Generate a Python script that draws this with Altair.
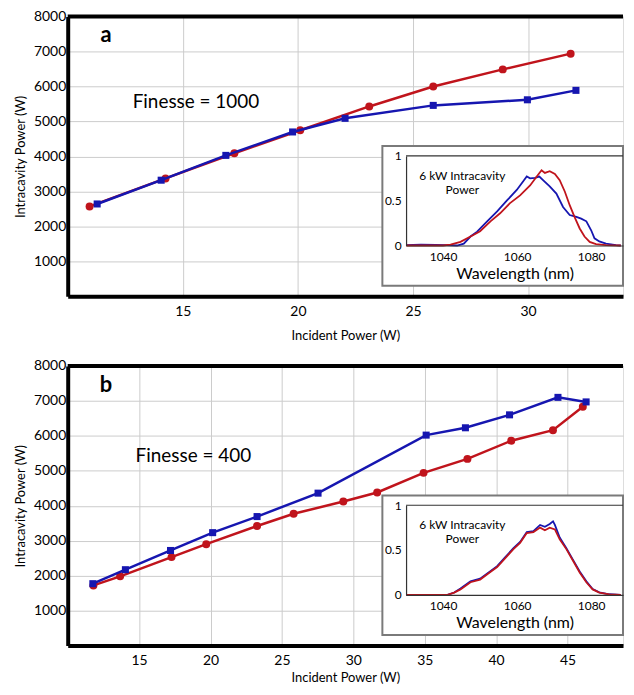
import altair as alt
import pandas as pd

# ---------------- data: panel a (Finesse = 1000) ----------------
a_red_x = [10.95, 14.25, 17.24, 20.1, 23.1, 25.88, 28.9, 31.85]
a_red_y = [2570, 3370, 4090, 4750, 5430, 6000, 6490, 6940]
a_blue_x = [11.28, 14.06, 16.87, 19.77, 22.05, 25.88, 29.97, 32.08]
a_blue_y = [2640, 3320, 4030, 4700, 5090, 5460, 5620, 5890]

# inset spectra, panel a (visible range ends near 1088 nm)
a_red_wl = [1030, 1040, 1042, 1044.7, 1048.3, 1050, 1052.8, 1055.4, 1058, 1060.8, 1063.5, 1065.3,
            1066.6, 1067.5, 1068.8, 1070.2, 1071.5, 1072.9, 1074.2, 1075.5, 1076.9, 1078.2, 1079.6,
            1081.3, 1084, 1088]
a_red_iv = [0.0, 0.0, 0.01, 0.04, 0.12, 0.16, 0.27, 0.36, 0.47, 0.56, 0.67, 0.77,
            0.84, 0.81, 0.83, 0.80, 0.73, 0.60, 0.45, 0.32, 0.19, 0.10, 0.04,
            0.015, 0.005, 0.0]
a_blue_wl = [1030, 1034, 1038, 1041, 1043.8, 1045.6, 1047.4, 1049.2, 1051.9, 1054.6, 1057.2, 1059.9,
             1061.7, 1062.6, 1063.5, 1064.8, 1066, 1067, 1068.8, 1070.6, 1072.4, 1074.2, 1076,
             1077.3, 1078.7, 1080, 1080.9, 1082.2, 1084, 1086.7, 1088]
a_blue_iv = [0.005, 0.01, 0.008, 0.005, 0.0, 0.02, 0.10, 0.155, 0.27, 0.38, 0.50, 0.62,
             0.72, 0.77, 0.75, 0.755, 0.77, 0.73, 0.66, 0.58, 0.43, 0.34, 0.32,
             0.30, 0.27, 0.17, 0.08, 0.045, 0.02, 0.005, 0.0]

# ---------------- data: panel b (Finesse = 400) ----------------
b_red_x = [11.8, 13.67, 17.27, 19.7, 23.26, 25.82, 29.3, 31.67, 34.92, 37.99, 41.06, 43.98, 46.07]
b_red_y = [1720, 1980, 2530, 2900, 3420, 3770, 4120, 4380, 4940, 5340, 5860, 6160, 6830]
b_blue_x = [11.76, 14.04, 17.2, 20.15, 23.26, 27.53, 35.1, 37.85, 40.94, 44.33, 46.3]
b_blue_y = [1770, 2170, 2720, 3230, 3690, 4360, 6020, 6230, 6600, 7100, 6970]

b_red_wl = [1030, 1041.2, 1043, 1044.7, 1047.4, 1050, 1052.3, 1054.6, 1056.8, 1059, 1060.8, 1062.6,
            1064.4, 1066.2, 1067.5, 1068.8, 1070.2, 1071.5, 1073.3, 1075.1, 1076.9, 1078.7, 1080.4,
            1082.2, 1084.9, 1088]
b_red_iv = [0.0, 0.0, 0.025, 0.06, 0.14, 0.17, 0.24, 0.31, 0.41, 0.51, 0.58, 0.69,
            0.70, 0.75, 0.72, 0.75, 0.73, 0.62, 0.51, 0.38, 0.25, 0.14, 0.06,
            0.025, 0.005, 0.0]
b_blue_wl = [1030, 1041.2, 1043, 1044.7, 1047.4, 1050, 1052.3, 1054.6, 1056.8, 1059, 1060.8, 1062.6,
             1064.4, 1066.2, 1067.5, 1068.8, 1069.7, 1070.2, 1071.5, 1073.3, 1075.1, 1076.9, 1078.7,
             1080.4, 1082.2, 1084.9, 1088]
b_blue_iv = [0.0, 0.0, 0.025, 0.07, 0.15, 0.18, 0.25, 0.32, 0.42, 0.52, 0.59, 0.70,
             0.71, 0.78, 0.76, 0.79, 0.82, 0.78, 0.64, 0.52, 0.39, 0.26, 0.15,
             0.065, 0.028, 0.006, 0.0]

y_ticks = [1000, 2000, 3000, 4000, 5000, 6000, 7000, 8000]
a_x_ticks = [15, 20, 25, 30]
b_x_ticks = [15, 20, 25, 30, 35, 40, 45]
inset_x_ticks = [1040, 1060, 1080]
inset_y_ticks = [0, 0.5, 1]
inset_label = ["6 kW Intracavity", "Power"]

FONT = "Lato"
RED = "#c0141c"
BLUE = "#1616b0"
W, H = 558, 281
GRID = "#cccccc"
IY0, IY1 = 230, 140  # pixel rows of inset y = 0 and y = 1 inside a panel
IX0 = 340            # pixel column of inset x = 1030 inside a panel
IXMAX = 1030 + (W - IX0) / 3.72


def panel(rx, ry, bx, by, xmax, xticks, letter, letter_x, finesse, fin_x, fin_y,
          rwl, riv, bwl, biv, title_pad):
    xs = alt.Scale(domain=[10, xmax], nice=False, zero=False)
    ys = alt.Scale(domain=[0, 8000], nice=False, zero=False)
    red = pd.DataFrame({"p": rx, "w": ry})
    blue = pd.DataFrame({"p": bx, "w": by})
    one = pd.DataFrame({"k": [0]})

    x_axis = alt.Axis(values=xticks, format="d", title="Incident Power (W)", grid=True, gridColor=GRID,
                      gridWidth=1, ticks=False, domainColor="black", domainWidth=4, labelFont=FONT,
                      labelFontSize=14, labelColor="black", labelPadding=8, labelOverlap=False,
                      titleFont=FONT, titleFontSize=13, titleFontWeight="normal", titleColor="black",
                      titlePadding=title_pad, zindex=0)
    y_axis = alt.Axis(values=y_ticks, format="d", title="Intracavity Power (W)", grid=True, gridColor=GRID,
                      gridWidth=1, ticks=False, domainColor="black", domainWidth=4, labelFont=FONT,
                      labelFontSize=14, labelColor="black", labelPadding=2, labelOverlap=False,
                      titleFont=FONT, titleFontSize=13, titleFontWeight="normal", titleColor="black",
                      titlePadding=6, zindex=0)

    red_line = alt.Chart(red).mark_line(color=RED, strokeWidth=2.5).encode(
        x=alt.X("p:Q", scale=xs, axis=x_axis), y=alt.Y("w:Q", scale=ys, axis=y_axis))
    red_pts = alt.Chart(red).mark_point(shape="circle", filled=True, color=RED, size=64, opacity=1).encode(
        x=alt.X("p:Q", scale=xs), y=alt.Y("w:Q", scale=ys))
    blue_line = alt.Chart(blue).mark_line(color=BLUE, strokeWidth=2.5).encode(
        x=alt.X("p:Q", scale=xs), y=alt.Y("w:Q", scale=ys))
    blue_pts = alt.Chart(blue).mark_point(shape="square", filled=True, color=BLUE, size=50, opacity=1).encode(
        x=alt.X("p:Q", scale=xs), y=alt.Y("w:Q", scale=ys))
    top_rule = alt.Chart(one).mark_rule(color="black", strokeWidth=4).encode(
        y=alt.YDatum(8000, scale=ys))
    letter_txt = alt.Chart(one).mark_text(text=letter, font=FONT, fontSize=22, fontWeight="bold",
                                          color="black").encode(
        x=alt.XDatum(letter_x, scale=xs), y=alt.YDatum(7460, scale=ys))
    fin_txt = alt.Chart(one).mark_text(text=finesse, font=FONT, fontSize=19, color="black").encode(
        x=alt.XDatum(fin_x, scale=xs), y=alt.YDatum(fin_y, scale=ys))
    main = alt.layer(red_line, red_pts, blue_line, blue_pts, top_rule, letter_txt, fin_txt)

    # ---------------- inset ----------------
    ixs = alt.Scale(domain=[1030, IXMAX], range=[IX0, W], nice=False, zero=False)
    iys = alt.Scale(domain=[0, 1], range=[IY0, IY1], nice=False, zero=False)
    ix_axis = alt.Axis(values=inset_x_ticks, format="d", orient="bottom", offset=IY0 - H, grid=False,
                       ticks=False, domainColor="#333333", domainWidth=1.2, labelFont=FONT, labelFontSize=12,
                       labelColor="black", labelPadding=6, labelOverlap=False, title="Wavelength (nm)",
                       titleFont=FONT, titleFontSize=16, titleFontWeight="normal", titleColor="black",
                       titlePadding=3, zindex=1)
    iy_axis = alt.Axis(values=inset_y_ticks, format=".1~f", orient="left", offset=-IX0, grid=False,
                       ticks=False, domainColor="#333333", domainWidth=1.2, labelFont=FONT, labelFontSize=12,
                       labelColor="black", labelPadding=5, labelOverlap=False, title=None, zindex=1)
    box = alt.Chart(one).mark_rect(fill="white", stroke="#7a7a7a", strokeWidth=2).encode(
        x=alt.XDatum(1023.6, scale=ixs, axis=ix_axis), x2=alt.X2Datum(IXMAX),
        y=alt.YDatum(-0.45, scale=iys, axis=iy_axis), y2=alt.Y2Datum(1.11))
    frame_top = alt.Chart(one).mark_rule(color="#333333", strokeWidth=1.2).encode(
        x=alt.XDatum(1030, scale=ixs), x2=alt.X2Datum(IXMAX), y=alt.YDatum(1, scale=iys))
    sr = pd.DataFrame({"wl": rwl, "iv": riv})
    sb = pd.DataFrame({"wl": bwl, "iv": biv})
    spec_b = alt.Chart(sb).mark_line(color=BLUE, strokeWidth=1.8).encode(
        x=alt.X("wl:Q", scale=ixs), y=alt.Y("iv:Q", scale=iys))
    spec_r = alt.Chart(sr).mark_line(color=RED, strokeWidth=1.8).encode(
        x=alt.X("wl:Q", scale=ixs), y=alt.Y("iv:Q", scale=iys))
    lab = alt.Chart(one).mark_text(text=inset_label, font=FONT, fontSize=12, lineHeight=14,
                                   color="black").encode(
        x=alt.XDatum(1045.2, scale=ixs), y=alt.YDatum(0.775, scale=iys))
    inset = alt.layer(box, frame_top, spec_b, spec_r, lab)

    return alt.layer(main, inset).resolve_scale(x="independent", y="independent").properties(
        width=W, height=H)


pa = panel(a_red_x, a_red_y, a_blue_x, a_blue_y, 10 + W / 23.13, a_x_ticks, "a", 11.67,
           "Finesse = 1000", 15.57, 5550, a_red_wl, a_red_iv, a_blue_wl, a_blue_iv, 11)
pb = panel(b_red_x, b_red_y, b_blue_x, b_blue_y, 10 + W / 14.35, b_x_ticks, "b", 12.68,
           "Finesse = 400", 18.8, 5420, b_red_wl, b_red_iv, b_blue_wl, b_blue_iv, 4)

chart = alt.vconcat(pa, pb, spacing=15).properties(
    padding={"left": 6, "top": -1, "right": 0, "bottom": 0}
).configure_view(stroke=None).configure(background="white")

chart.save("out.html", embed_options={"renderer": "svg", "actions": False})
